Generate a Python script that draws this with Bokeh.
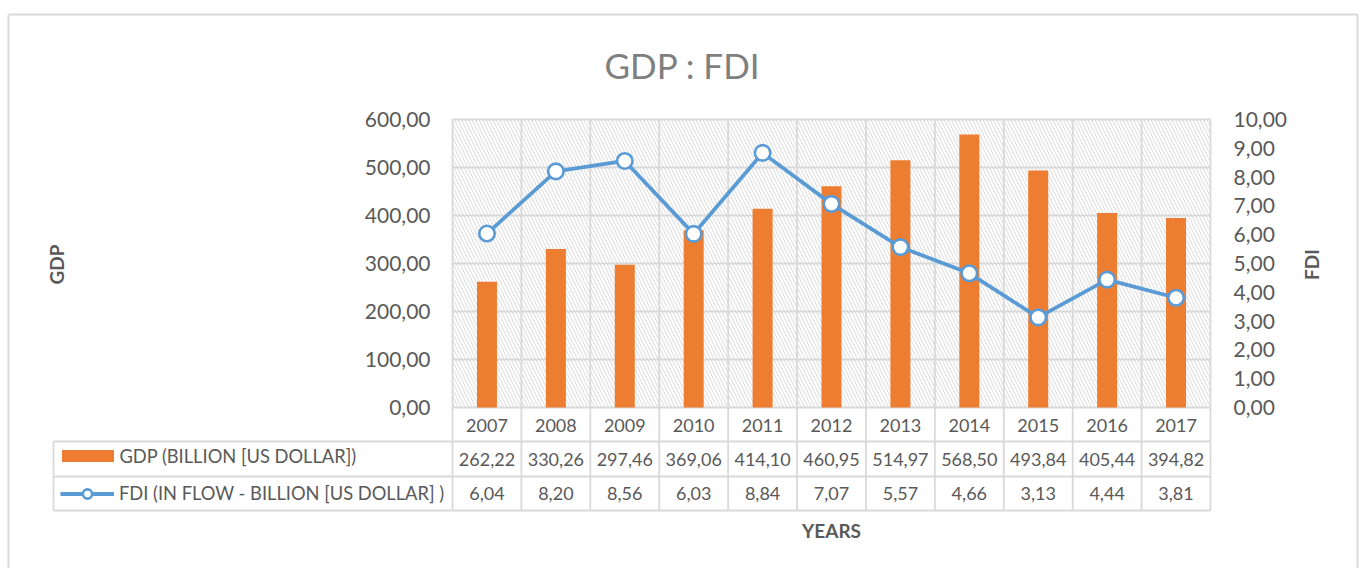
import numpy as np
from bokeh.plotting import figure
from bokeh.core.properties import value
from bokeh.models import Range1d, Legend, LegendItem
from bokeh.embed import file_html
from bokeh.resources import INLINE

# ---------------- data ----------------
years = ["2007", "2008", "2009", "2010", "2011", "2012", "2013", "2014", "2015", "2016", "2017"]
gdp = [262.22, 330.26, 297.46, 369.06, 414.10, 460.95, 514.97, 568.50, 493.84, 405.44, 394.82]
fdi = [6.04, 8.20, 8.56, 6.03, 8.84, 7.07, 5.57, 4.66, 3.13, 4.44, 3.81]
gdp_ticks = [0, 100, 200, 300, 400, 500, 600]
fdi_ticks = [0, 1, 2, 3, 4, 5, 6, 7, 8, 9, 10]
title_text = "GDP : FDI"
gdp_name = "GDP (BILLION [US DOLLAR])"
fdi_name = "FDI (IN FLOW - BILLION [US DOLLAR] )"
x_title = "YEARS"
y_title = "GDP"
y2_title = "FDI"

# ---------------- layout (pixels of the page) ----------------
W, H = 1360, 568
PL, PR, PT, PB = 452, 1210, 119, 407           # plot area
ROWS = [407, 441, 476, 510]                     # data table row borders
LEG_L = 53
FONT = "Lato"
TXT = "#595959"
GRID = "#d9d9d9"
ORANGE = "#ED7D31"
BLUE = "#5B9BD5"

n = len(years)
gmax = gdp_ticks[-1]
fmax = fdi_ticks[-1]
sx = (PR - PL) / n              # px per category
sy = (PB - PT) / gmax           # px per GDP unit

def X(px):
    return (px - PL) / sx

def Y(py):
    return (PB - py) / sy

def fmt(v):
    return f"{v:.2f}".replace(".", ",")

p = figure(width=W, height=H,
           x_range=Range1d(X(0), X(W)), y_range=Range1d(Y(H), Y(0)),
           x_axis_location=None, y_axis_location=None,
           output_backend="svg", toolbar_location=None, min_border=0)
p.extra_y_ranges = {"fdi": Range1d(Y(H) * fmax / gmax, Y(0) * fmax / gmax)}
p.outline_line_color = None
p.background_fill_color = "white"
p.border_fill_color = "white"
p.grid.visible = False

centers = [i + 0.5 for i in range(n)]
bounds = list(range(n + 1))

# hatched plot area
p.quad(left=[0], right=[n], bottom=[0], top=[gmax],
       fill_color=None, line_color=None, hatch_pattern="left_diagonal_line",
       hatch_color="#dadada", hatch_scale=7, hatch_weight=1, level="image")

# grid lines
p.segment(x0=[0] * len(gdp_ticks), x1=[n] * len(gdp_ticks), y0=gdp_ticks, y1=gdp_ticks,
          line_color=GRID, line_width=1.8, level="underlay")
p.segment(x0=bounds, x1=bounds, y0=[0] * (n + 1), y1=[gmax] * (n + 1),
          line_color=GRID, line_width=1.8, level="underlay")

# data table lines
hx0 = [X(LEG_L)] * 3
hx1 = [n] * 3
hy = [Y(r) for r in ROWS[1:]]
p.segment(x0=hx0, x1=hx1, y0=hy, y1=hy, line_color=GRID, line_width=1.8, level="underlay")
p.segment(x0=bounds + [X(LEG_L)], x1=bounds + [X(LEG_L)],
          y0=[0] * (n + 1) + [Y(ROWS[1])], y1=[Y(ROWS[-1])] * (n + 2),
          line_color=GRID, line_width=1.8, level="underlay")

# outer chart border
bx0 = [X(8), X(8), X(1357)]
by0 = [Y(14), Y(14), Y(14)]
bx1 = [X(8), X(1357), X(1357)]
by1 = [Y(H), Y(14), Y(H)]
p.segment(x0=bx0, y0=by0, x1=bx1, y1=by1, line_color=GRID, line_width=2)

# bars & line
bars = p.vbar(x=centers, top=gdp, width=0.29, fill_color=ORANGE, line_color=None)
ln = p.line(x=centers, y=fdi, y_range_name="fdi", line_color=BLUE, line_width=3.8)
pts = p.scatter(x=centers, y=fdi, y_range_name="fdi", size=15.5, fill_color="white",
                line_color=BLUE, line_width=2.6)

def txt(x, y, t, align="center", size="18px", style="normal", color=TXT, angle=0, yr="default"):
    p.text(x=x, y=y, text=t, text_align=align, text_baseline="middle",
           text_font=value(FONT), text_font_size=value(size), text_font_style=style,
           text_color=color, angle=angle, y_range_name=yr)

# tick labels
txt([X(430)] * len(gdp_ticks), gdp_ticks, [fmt(t) for t in gdp_ticks], align="right", size="21px")
txt([X(1233)] * len(fdi_ticks), fdi_ticks, [fmt(t) for t in fdi_ticks], align="left", size="21px",
    yr="fdi")

# data table contents
txt(centers, [Y((ROWS[0] + ROWS[1]) / 2 + 1)] * n, years, size="18px")
txt(centers, [Y((ROWS[1] + ROWS[2]) / 2)] * n, [fmt(v) for v in gdp], size="18px")
txt(centers, [Y((ROWS[2] + ROWS[3]) / 2)] * n, [fmt(v) for v in fdi], size="18px")

# legend keys in the data table
r2 = (ROWS[1] + ROWS[2]) / 2
r3 = (ROWS[2] + ROWS[3]) / 2
common = dict(padding=0, margin=0, spacing=0, border_line_color=None, background_fill_alpha=0,
              label_text_font=FONT, label_text_font_size="18.3px", label_text_color=TXT)
leg1 = Legend(items=[LegendItem(label=gdp_name, renderers=[bars])],
              location=(54.5, H - (r2 + 8)), glyph_width=65, glyph_height=15,
              label_height=15, label_standoff=0, **common)
leg2 = Legend(items=[LegendItem(label=fdi_name, renderers=[ln, pts])],
              location=(60, H - (r3 + 11.5)), glyph_width=54, glyph_height=23,
              label_height=23, label_standoff=5, **common)
p.add_layout(leg1)
p.add_layout(leg2)

# titles
txt([X(682)], [Y(64)], [title_text], size="35px", color="#7f7f7f")
txt([X(56)], [Y(264)], [y_title], size="19px", style="bold", angle=np.pi / 2)
txt([X(1311)], [Y(264)], [y2_title], size="19px", style="bold", angle=np.pi / 2)
txt([X(831)], [Y(530)], [x_title], size="19px", style="bold")

open("out.html", "w").write(file_html(p, INLINE))
